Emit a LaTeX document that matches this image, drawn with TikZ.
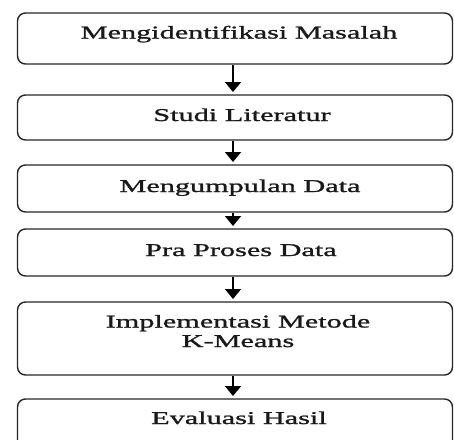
\documentclass[tikz,border=0pt]{standalone}
\usepackage{fontspec}
\setmainfont{Liberation Serif}[FakeStretch=1.68,FakeBold=1.3]
\usetikzlibrary{arrows.meta}
\tikzset{
  box/.style={draw=black!85, line width=1.4pt, rounded corners=8pt, minimum width=435pt, inner sep=0pt, outer sep=0pt},
  lbl/.style={anchor=base, inner sep=0pt, text=black!90, font=\fontsize{18}{19.5}\selectfont, align=center},
  arr/.style={line width=1.8pt, draw=black, -{Triangle[width=16pt,length=10pt]}, shorten >=3pt, shorten <=1pt}
}
\begin{document}
\begin{tikzpicture}[x=1pt,y=-1pt]
\useasboundingbox (0,0) rectangle (454,439);
\clip (0,0) rectangle (454,439);
\node[box, minimum height=51pt] (b1) at (235,38.5) {};
\node[box, minimum height=45pt] (b2) at (235,117.5) {};
\node[box, minimum height=47pt] (b3) at (235,188.5) {};
\node[box, minimum height=47pt] (b4) at (235,252.5) {};
\node[box, minimum height=73pt] (b5) at (235,338.5) {};
\node[box, minimum height=71pt] (b6) at (235,434.5) {};
\node[lbl] (t1) at (239,38.5) {Mengidentifikasi Masalah};
\node[lbl] (t2) at (242,121) {Studi Literatur};
\node[lbl] (t3) at (240,192) {Mengumpulan Data};
\node[lbl] (t4) at (241,256) {Pra Proses Data};
\node[lbl] (t5) at (238,347) {Implementasi Metode\\K-Means};
\node[lbl] (t6) at (239,424) {Evaluasi Hasil};
\draw[arr] ([xshift=-2pt]b1.south) -- ([xshift=-2pt]b2.north);
\draw[arr] ([xshift=-2pt]b2.south) -- ([xshift=-2pt]b3.north);
\draw[arr] ([xshift=-2pt]b3.south) -- ([xshift=-2pt]b4.north);
\draw[arr] ([xshift=-2pt]b4.south) -- ([xshift=-2pt]b5.north);
\draw[arr] ([xshift=-2pt]b5.south) -- ([xshift=-2pt]b6.north);
\end{tikzpicture}
\end{document}
